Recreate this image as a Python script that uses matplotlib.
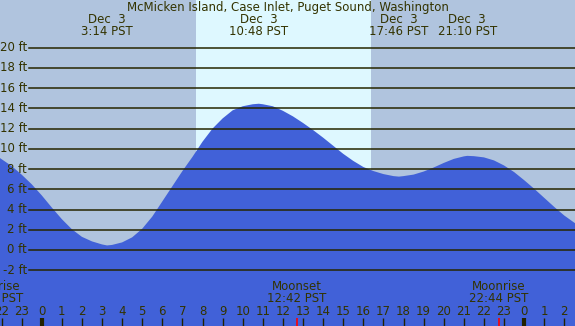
import numpy as np
import matplotlib
matplotlib.use("Agg")
import matplotlib.pyplot as plt


# tide height (ft), hours since midnight Dec 3 (PST)
tide_hours = [-2.09, -1.5, -1.0, -0.5, 0.0, 0.5, 1.0, 1.5, 2.0, 2.5, 3.0, 3.25,
              3.5, 4.0, 4.5, 5.0, 5.5, 6.0, 6.5, 7.0, 7.5, 8.0, 8.5, 9.0, 9.5,
              10.0, 10.5, 10.8, 11.0, 11.5, 12.0, 12.5, 13.0, 13.5, 14.0, 14.5,
              15.0, 15.5, 16.0, 16.5, 17.0, 17.5, 17.77, 18.0, 18.5, 19.0, 19.5,
              20.0, 20.5, 21.0, 21.17, 21.5, 22.0, 22.5, 23.0, 23.5, 24.0, 24.5,
              25.0, 25.5, 26.0, 26.6]
tide_ft = [9.1, 8.3, 7.45, 6.5, 5.4, 4.2, 3.05, 2.05, 1.3, 0.85, 0.55, 0.45,
           0.5, 0.75, 1.25, 2.1, 3.3, 4.8, 6.3, 7.8, 9.2, 10.7, 12.0, 13.0, 13.8,
           14.2, 14.4, 14.45, 14.4, 14.2, 13.75, 13.2, 12.55, 11.85, 11.1, 10.3,
           9.5, 8.8, 8.2, 7.8, 7.5, 7.3, 7.25, 7.3, 7.45, 7.75, 8.15,
           8.6, 9.0, 9.25, 9.3, 9.27, 9.15, 8.85, 8.35, 7.7, 6.9, 6.05,
           5.15, 4.25, 3.4, 2.55]

# daylight window (hours)
sunrise = 7.68
sunset = 16.38

# high / low tide events shown along the top
event_hours = [3 + 14 / 60, 10 + 48 / 60, 17 + 46 / 60, 21 + 10 / 60]
event_dates = ["Dec  3", "Dec  3", "Dec  3", "Dec  3"]
event_times = ["3:14 PST", "10:48 PST", "17:46 PST", "21:10 PST"]

# moon events shown along the bottom
moon_hours = [-2.4, 12 + 42 / 60, 22 + 44 / 60]
moon_names = ["Moonrise", "Moonset", "Moonrise"]
moon_times = ["21:36 PST", "12:42 PST", "22:44 PST"]

grid_ft = list(range(-2, 21, 2))
hour_ticks = list(range(-2, 27))

title = "McMicken Island, Case Inlet, Puget Sound, Washington"

night = "#b0c4de"
day = "#def8ff"
water = "#4161d8"
ink = "#333300"
fs = 8.5

fig = plt.figure(figsize=(5.75, 3.26), dpi=100)
ax = fig.add_axes([0, 0, 1, 1])
ax.set_xlim(-2.075, 26.53)
ax.set_ylim(-7.51, 24.7)
ax.axis("off")
fig.patch.set_facecolor(night)

# day shading
ax.axvspan(sunrise, sunset, color=day, lw=0, zorder=0)

# water
ax.fill_between(tide_hours, tide_ft, -20, color=water, lw=0, zorder=1)

# grid lines + labels
for ft in grid_ft:
    ax.axhline(ft, xmin=29 / 575, xmax=1, color="#262600", lw=1.1, zorder=2)
    ax.text(-2.075 + 27 / 20.1, ft, "%d ft" % ft, ha="right", va="center",
            fontsize=fs, color=ink, zorder=3)

# header
fig.text(0.5, 1 - 7 / 326, title, ha="center", va="center", fontsize=fs,
         color=ink)
for h, d, t in zip(event_hours, event_dates, event_times):
    ax.text(h, 24.7 - 19 / 10.12, d, ha="center", va="center", fontsize=fs,
            color=ink)
    ax.text(h, 24.7 - 31 / 10.12, t, ha="center", va="center", fontsize=fs,
            color=ink)

# bottom hour ticks
y_lab = -7.51 + 14 / 10.12
for h in hour_ticks:
    ax.text(h, y_lab, str(h % 24), ha="center", va="center", fontsize=fs,
            color=ink, zorder=3)
    midnight = h % 24 == 0
    ax.plot([h, h], [-7.6, -7.51 + 8 / 10.12], color="#222200",
            lw=3 if midnight else 1, solid_capstyle="butt", zorder=3)

# moon events
for h, n, t in zip(moon_hours, moon_names, moon_times):
    ax.text(h, -7.51 + 39 / 10.12, n, ha="center", va="center", fontsize=fs,
            color=ink, zorder=3)
    ax.text(h, -7.51 + 27 / 10.12, t, ha="center", va="center", fontsize=fs,
            color=ink, zorder=3)
    ax.plot([h, h], [-7.6, -7.51 + 8 / 10.12], color="red", lw=1.2,
            solid_capstyle="butt", zorder=4)

plt.savefig("out.png", dpi=100, facecolor=night)
